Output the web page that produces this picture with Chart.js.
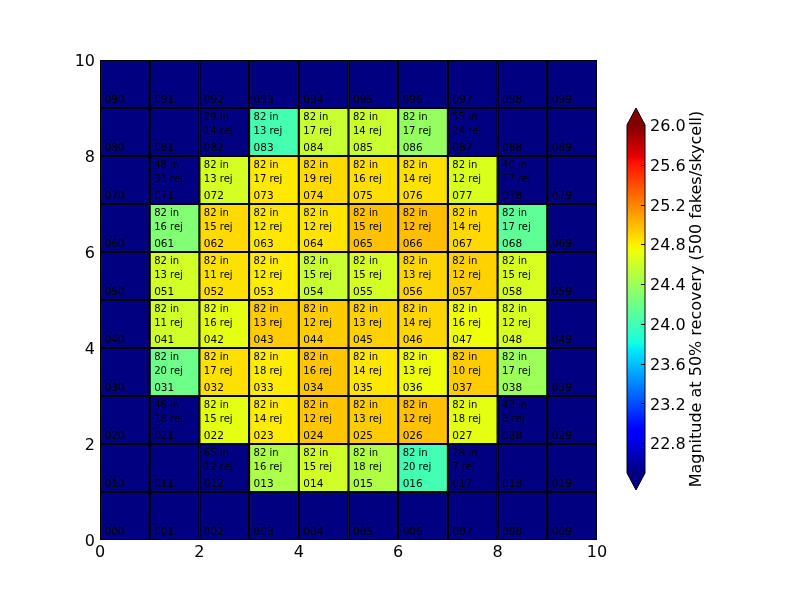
<!DOCTYPE html>
<html>
<head>
<meta charset="utf-8">
<script src="https://cdn.jsdelivr.net/npm/chart.js@4.4.0/dist/chart.umd.min.js"></script>
<style>
  html, body { margin: 0; padding: 0; background: #fff; }
</style>
</head>
<body>
<canvas id="skyGrid" width="800" height="600"></canvas>
<script>
// grid is 10 x 10 skycells; arrays below run row by row, top row (9) first
const cols = [0, 1, 2, 3, 4, 5, 6, 7, 8, 9];
const rows = [9, 8, 7, 6, 5, 4, 3, 2, 1, 0];
const xTicks = [0, 2, 4, 6, 8, 10];
const yTicks = [0, 2, 4, 6, 8, 10];
const cbTicks = [22.8, 23.2, 23.6, 24.0, 24.4, 24.8, 25.2, 25.6, 26.0];
const cbMin = 22.5, cbMax = 26.0;

// magnitude at 50% recovery (null = below range / no data)
const mag = [
  null, null, null,  null,  null,  null,  null,  null,  null, null,
  null, null, null,  24.02, 24.57, 24.58, 24.36, null,  null, null,
  null, null, 24.63, 24.82, 24.88, 24.86, 24.85, 24.65, null, null,
  null, 24.28, 24.88, 24.83, 24.84, 24.97, 24.98, 24.88, 24.13, null,
  null, 24.62, 24.85, 24.81, 24.58, 24.63, 24.89, 24.91, 24.64, null,
  null, 24.61, 24.70, 24.93, 24.93, 24.91, 24.89, 24.74, 24.64, null,
  null, 24.19, 24.86, 24.81, 24.95, 24.83, 24.74, 24.93, 24.39, null,
  null, null, 24.70, 24.81, 24.95, 24.93, 24.97, 24.70, null, null,
  null, null, null,  24.46, 24.61, 24.48, 24.01, null,  null, null,
  null, null, null,  null,  null,  null,  null,  null,  null, null
];

const nIn = [
  null, null, null, null, null, null, null, null, null, null,
  null, null, 29,   82,   82,   82,   82,   55,   null, null,
  null, 48,   82,   82,   82,   82,   82,   82,   40,   null,
  null, 82,   82,   82,   82,   82,   82,   82,   82,   null,
  null, 82,   82,   82,   82,   82,   82,   82,   82,   null,
  null, 82,   82,   82,   82,   82,   82,   82,   82,   null,
  null, 82,   82,   82,   82,   82,   82,   82,   82,   null,
  null, 46,   82,   82,   82,   82,   82,   82,   42,   null,
  null, null, 65,   82,   82,   82,   82,   29,   null, null,
  null, null, null, null, null, null, null, null, null, null
];

const nRej = [
  null, null, null, null, null, null, null, null, null, null,
  null, null, 14,   13,   17,   14,   17,   24,   null, null,
  null, 31,   13,   17,   19,   16,   14,   12,   17,   null,
  null, 16,   15,   12,   12,   15,   12,   14,   17,   null,
  null, 13,   11,   12,   15,   15,   13,   12,   15,   null,
  null, 11,   16,   13,   12,   13,   14,   16,   12,   null,
  null, 20,   17,   18,   16,   14,   13,   10,   17,   null,
  null, 18,   15,   14,   12,   13,   12,   18,   8,    null,
  null, null, 12,   16,   15,   18,   20,   7,    null, null,
  null, null, null, null, null, null, null, null, null, null
];

// matplotlib "jet"
const jetR = [[0, 0], [0.35, 0], [0.66, 1], [0.89, 1], [1, 0.5]];
const jetG = [[0, 0], [0.125, 0], [0.375, 1], [0.64, 1], [0.91, 0], [1, 0]];
const jetB = [[0, 0.5], [0.11, 1], [0.34, 1], [0.65, 0], [1, 0]];
function seg(t, pts) {
  for (let i = 1; i < pts.length; i++) {
    if (t <= pts[i][0]) {
      const f = (t - pts[i - 1][0]) / (pts[i][0] - pts[i - 1][0]);
      return pts[i - 1][1] + f * (pts[i][1] - pts[i - 1][1]);
    }
  }
  return pts[pts.length - 1][1];
}
function jet(t) {
  t = Math.max(0, Math.min(1, t));
  const c = [seg(t, jetR), seg(t, jetG), seg(t, jetB)].map(v => Math.round(v * 255));
  return `rgb(${c[0]},${c[1]},${c[2]})`;
}
function magColor(v) {
  if (v === null) return '#000080';
  return jet((v - cbMin) / (cbMax - cbMin));
}

// colorbar sits beside the grid: value span 22.5..26 covers y 125..473
const cbPx = 348 / (cbMax - cbMin);
const cbLo = cbMin - (540 - 473) / cbPx;
const cbHi = cbMax + (125 - 60) / cbPx;

const datasets = rows.map((r, ri) => ({
  data: cols.map(c => ({ x: c + 0.5, y: [r, r + 1] })),
  backgroundColor: cols.map(c => magColor(mag[ri * 10 + c])),
  borderColor: '#000',
  borderWidth: 1.4,
  borderSkipped: false,
  barPercentage: 1,
  categoryPercentage: 1,
  grouped: false
}));

const cellText = {
  id: 'cellText',
  afterDatasetsDraw(chart) {
    const { ctx, scales: { x, y } } = chart;
    ctx.save();
    ctx.fillStyle = '#000';
    ctx.textAlign = 'left';
    ctx.textBaseline = 'middle';
    rows.forEach((r, ri) => {
      cols.forEach(c => {
        const k = ri * 10 + c;
        const px = x.getPixelForValue(c + 0.09);
        ctx.font = '10.5px "DejaVu Sans"';
        ctx.fillText(String(r * 10 + c).padStart(3, '0'), px, y.getPixelForValue(r + 0.18) + 1);
        if (nIn[k] !== null) {
          ctx.font = '10px "DejaVu Sans"';
          ctx.fillText(nIn[k] + ' in', px, y.getPixelForValue(r + 0.83) + 1);
          ctx.fillText(nRej[k] + ' rej', px, y.getPixelForValue(r + 0.54) + 1);
        }
      });
    });
    const a = chart.chartArea;
    ctx.strokeStyle = '#000';
    ctx.lineWidth = 1;
    ctx.strokeRect(a.left + 0.5, a.top + 0.5, a.right - a.left - 1, a.bottom - a.top - 1);
    ctx.restore();
  }
};

const colorBar = {
  id: 'colorBar',
  afterDraw(chart) {
    const { ctx } = chart;
    const cb = chart.scales.cb;
    const x0 = 627, x1 = 645, xm = (x0 + x1) / 2;
    const yTop = cb.getPixelForValue(cbMax), yBot = cb.getPixelForValue(cbMin);
    ctx.save();
    for (let py = Math.floor(yTop); py < yBot; py++) {
      const v = cb.getValueForPixel(py + 0.5);
      ctx.fillStyle = magColor(Math.max(cbMin, v));
      ctx.fillRect(x0, py, x1 - x0, 1);
    }
    ctx.fillStyle = jet(1);
    ctx.beginPath();
    ctx.moveTo(x0, yTop); ctx.lineTo(xm, yTop - 17); ctx.lineTo(x1, yTop); ctx.closePath();
    ctx.fill();
    ctx.fillStyle = jet(0);
    ctx.beginPath();
    ctx.moveTo(x0, yBot); ctx.lineTo(xm, yBot + 17); ctx.lineTo(x1, yBot); ctx.closePath();
    ctx.fill();
    ctx.strokeStyle = '#000';
    ctx.lineWidth = 1;
    ctx.beginPath();
    ctx.moveTo(x0, yTop); ctx.lineTo(xm, yTop - 17); ctx.lineTo(x1, yTop);
    ctx.lineTo(x1, yBot); ctx.lineTo(xm, yBot + 17); ctx.lineTo(x0, yBot); ctx.closePath();
    ctx.stroke();
    cbTicks.forEach(t => {
      const py = Math.round(cb.getPixelForValue(t)) + 0.5;
      ctx.beginPath();
      ctx.moveTo(x1 - 4, py); ctx.lineTo(x1, py);
      ctx.stroke();
    });
    ctx.translate(697, (yTop + yBot) / 2);
    ctx.rotate(-Math.PI / 2);
    ctx.fillStyle = '#000';
    ctx.font = '16px "DejaVu Sans"';
    ctx.textAlign = 'center';
    ctx.textBaseline = 'middle';
    ctx.fillText('Magnitude at 50% recovery (500 fakes/skycell)', 0, 0);
    ctx.restore();
  }
};

const tickFont = { family: 'DejaVu Sans', size: 16 };

// pin axis sizes so the plot box lands at x 100..597, y 60..540
function noPad(s) { s.paddingTop = 0; s.paddingBottom = 0; s.paddingLeft = 0; s.paddingRight = 0; }

new Chart(document.getElementById('skyGrid').getContext('2d'), {
  type: 'bar',
  data: { datasets },
  options: {
    responsive: false,
    devicePixelRatio: 1,
    animation: false,
    layout: { autoPadding: false, padding: { top: 60, left: 0, right: 0, bottom: 0 } },
    plugins: { legend: { display: false }, tooltip: { enabled: false } },
    scales: {
      x: {
        type: 'linear', min: 0, max: 10, offset: false,
        grid: { display: false, offset: false, drawTicks: false },
        border: { display: false },
        afterBuildTicks: s => { s.ticks = xTicks.map(v => ({ value: v })); },
        afterFit: s => { s.height = 60; noPad(s); },
        ticks: { font: tickFont, color: '#000', padding: 3, maxRotation: 0 }
      },
      y: {
        type: 'linear', min: 0, max: 10,
        grid: { display: false, drawTicks: false },
        border: { display: false },
        afterBuildTicks: s => { s.ticks = yTicks.map(v => ({ value: v })); },
        afterFit: s => { s.width = 100; noPad(s); },
        ticks: { font: tickFont, color: '#000', padding: 5, labelOffset: 2 }
      },
      cb: {
        type: 'linear', position: 'right', min: cbLo, max: cbHi,
        grid: { display: false, drawTicks: true, tickLength: 53 },
        border: { display: false },
        afterBuildTicks: s => { s.ticks = cbTicks.map(v => ({ value: v })); },
        afterFit: s => { s.width = 203; noPad(s); },
        ticks: { font: tickFont, color: '#000', padding: 0, labelOffset: 2, callback: v => v.toFixed(1) }
      }
    }
  },
  plugins: [cellText, colorBar]
});
</script>
</body>
</html>
